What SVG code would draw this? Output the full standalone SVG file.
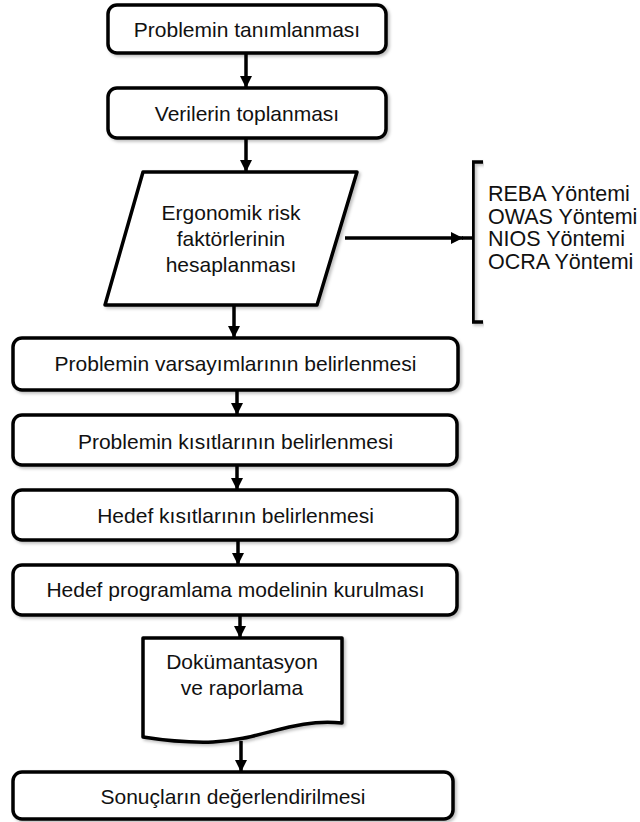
<svg xmlns="http://www.w3.org/2000/svg" width="640" height="822" viewBox="0 0 640 822">
<style>
.node{fill:#fff;stroke:#000;stroke-width:3.5;stroke-linejoin:round;filter:url(#sh)}
.t{font-family:"Liberation Sans",Arial,sans-serif;font-size:21px;fill:#111;text-anchor:middle}
.tl{font-family:"Liberation Sans",Arial,sans-serif;font-size:21.5px;fill:#111}
.c{stroke:#000;stroke-width:3.5;fill:none}
</style>
<defs>
<filter id="sh" x="-10%" y="-10%" width="120%" height="130%">
<feDropShadow dx="2" dy="2" stdDeviation="1.5" flood-color="#000" flood-opacity="0.25"/>
</filter>
<marker id="ah" markerUnits="userSpaceOnUse" markerWidth="13" markerHeight="13" refX="12" refY="6.5" orient="auto">
<path d="M0,0.5 L12,6.5 L0,12.5 Z" fill="#000"/>
</marker>
</defs>
<g id="connectors">
<line class="c" x1="246" y1="53" x2="246" y2="88" marker-end="url(#ah)"/>
<line class="c" x1="246" y1="138" x2="246" y2="172" marker-end="url(#ah)"/>
<line class="c" x1="345" y1="238" x2="463" y2="238" marker-end="url(#ah)"/>
<line class="c" x1="462" y1="238" x2="473" y2="238"/>
<line class="c" x1="234" y1="305" x2="234" y2="338" marker-end="url(#ah)"/>
<line class="c" x1="237" y1="390" x2="237" y2="415" marker-end="url(#ah)"/>
<line class="c" x1="237" y1="465" x2="237" y2="490" marker-end="url(#ah)"/>
<line class="c" x1="238" y1="540" x2="238" y2="565" marker-end="url(#ah)"/>
<line class="c" x1="240" y1="615" x2="240" y2="638" marker-end="url(#ah)"/>
<line class="c" x1="241" y1="741" x2="241" y2="772" marker-end="url(#ah)"/>
</g>
<g id="n1">
<rect class="node" x="108" y="5" width="278" height="48" rx="9"/>
<text class="t" x="247" y="37">Problemin tanımlanması</text>
</g>
<g id="n2">
<rect class="node" x="108" y="88" width="278" height="50" rx="9"/>
<text class="t" x="247" y="121">Verilerin toplanması</text>
</g>
<g id="n3">
<path class="node" d="M143,172 H357 L317,305 H105 Z" stroke-linejoin="miter"/>
<text class="t" x="231" y="220">Ergonomik risk</text>
<text class="t" x="231" y="246">faktörlerinin</text>
<text class="t" x="231" y="272">hesaplanması</text>
</g>
<g id="methods">
<path class="c" d="M483,162 H473 V322 H483" style="filter:url(#sh)"/>
<text class="tl" x="488" y="201">REBA Yöntemi</text>
<text class="tl" x="488" y="224">OWAS Yöntemi</text>
<text class="tl" x="488" y="246">NIOS Yöntemi</text>
<text class="tl" x="488" y="269">OCRA Yöntemi</text>
</g>
<g id="n4">
<rect class="node" x="13" y="338" width="445" height="52" rx="9"/>
<text class="t" x="235.5" y="371">Problemin varsayımlarının belirlenmesi</text>
</g>
<g id="n5">
<rect class="node" x="13" y="415" width="444" height="50" rx="9"/>
<text class="t" x="235.5" y="449">Problemin kısıtlarının belirlenmesi</text>
</g>
<g id="n6">
<rect class="node" x="13" y="490" width="444" height="50" rx="9"/>
<text class="t" x="235.5" y="523">Hedef kısıtlarının belirlenmesi</text>
</g>
<g id="n7">
<rect class="node" x="13" y="565" width="444" height="50" rx="9"/>
<text class="t" x="235.5" y="597">Hedef programlama modelinin kurulması</text>
</g>
<g id="n8">
<path class="node" d="M143,638 H342 V723 C292,718 262,740 213,742 C185,743 162,740 143,737 Z" stroke-linejoin="miter"/>
<text class="t" x="242" y="669">Dokümantasyon</text>
<text class="t" x="242" y="695">ve raporlama</text>
</g>
<g id="n9">
<rect class="node" x="13" y="772" width="440" height="47" rx="9"/>
<text class="t" x="233" y="804">Sonuçların değerlendirilmesi</text>
</g>
</svg>
